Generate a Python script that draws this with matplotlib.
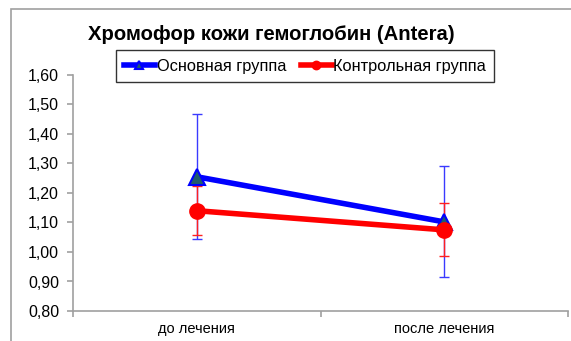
import matplotlib.pyplot as plt
import matplotlib.patches as patches
import numpy as np

plt.rcParams['font.family'] = ['Liberation Sans', 'DejaVu Sans']

categories = ['до лечения', 'после лечения']
main_vals = [1.255, 1.102]
main_err = [0.212, 0.188]
ctrl_vals = [1.140, 1.075]
ctrl_err = [0.084, 0.090]
yticks = [0.80, 0.90, 1.00, 1.10, 1.20, 1.30, 1.40, 1.50, 1.60]

fig = plt.figure(figsize=(5.71, 3.41), dpi=100)
ax = fig.add_axes([73/571, 1 - 311/341, (568 - 73)/571, (311 - 75)/341])

# chart area frame (left/top only visible)
fig.add_artist(patches.Rectangle((11/571, -0.05), 1.0, 1 - 9/341 + 0.05,
                                 transform=fig.transFigure, fill=False,
                                 edgecolor='#a0a0a0', linewidth=1.2))

x = np.arange(len(categories))

# error bars
ax.errorbar(x, main_vals, yerr=main_err, fmt='none', ecolor='#3a3aff',
            elinewidth=1, capsize=3.5, capthick=1, zorder=2)
ax.errorbar(x, ctrl_vals, yerr=ctrl_err, fmt='none', ecolor='#ff2020',
            elinewidth=1, capsize=3.5, capthick=1, zorder=2)

ax.plot(x, main_vals, color='#0000ff', linewidth=4, marker='^', markersize=11,
        markerfacecolor='#1f5c6b', markeredgecolor='#0000ff', markeredgewidth=1.5,
        label='Основная группа', zorder=3)
ax.plot(x, ctrl_vals, color='#ff0000', linewidth=4, marker='o', markersize=11,
        markerfacecolor='#ff0000', markeredgecolor='#ff0000',
        label='Контрольная группа', zorder=4)

ax.set_xlim(-0.5, 1.5)
ax.set_ylim(0.80, 1.60)
ax.set_yticks(yticks)
ax.set_yticklabels([f'{v:.2f}'.replace('.', ',') for v in yticks], fontsize=11.5)

ax.set_xticks([-0.5, 0.5, 1.5])
ax.set_xticklabels([])
ax.set_xticks(x, minor=True)
ax.set_xticklabels(categories, minor=True, fontsize=10.5)
ax.tick_params(axis='x', which='minor', length=0, pad=8)
ax.tick_params(axis='x', which='major', length=4, color='#a0a0a0', width=1.2)
ax.tick_params(axis='y', length=4, color='#a0a0a0', width=1.2, pad=6)

for s in ['top', 'right']:
    ax.spines[s].set_visible(False)
for s in ['left', 'bottom']:
    ax.spines[s].set_color('#a0a0a0')
    ax.spines[s].set_linewidth(1.2)

fig.text(271/571, 1 - 35/341, 'Хромофор кожи гемоглобин (Antera)',
         ha='center', va='center', fontsize=14.6, fontweight='bold')

leg = ax.legend(loc='center', bbox_to_anchor=(305/571, 1 - 66/341),
                bbox_transform=fig.transFigure, ncol=2, fontsize=11.8,
                frameon=True, fancybox=False, edgecolor='black',
                handlelength=1.9, handletextpad=0.1, columnspacing=0.9,
                borderpad=0.5, borderaxespad=0, markerscale=0.55)
leg.get_frame().set_linewidth(1.0)

fig.savefig('out.png', dpi=100)
